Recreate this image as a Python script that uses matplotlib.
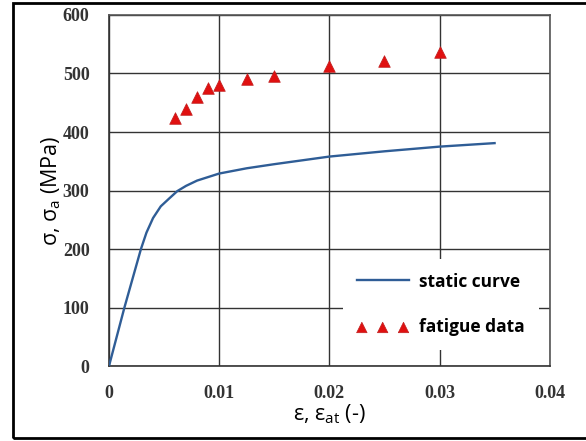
import matplotlib.pyplot as plt
from matplotlib.patches import Rectangle

# static stress-strain curve
strain = [0, 0.0014, 0.0029, 0.0034, 0.004, 0.0047, 0.0055, 0.0062, 0.007, 0.008,
          0.009, 0.01, 0.0125, 0.015, 0.02, 0.025, 0.03, 0.035]
stress = [0, 100, 200, 228, 253, 273, 287, 299, 308, 317,
          323, 329, 338, 345, 358, 367, 375, 381]

# fatigue data
strain_at = [0.006, 0.007, 0.008, 0.009, 0.01, 0.0125, 0.015, 0.02, 0.025, 0.03]
stress_a = [424, 439, 459, 475, 480, 490, 496, 513, 522, 537]

xticks = [0, 0.01, 0.02, 0.03, 0.04]
xticklabels = ['0', '0.01', '0.02', '0.03', '0.04']
yticks = [0, 100, 200, 300, 400, 500, 600]

plt.rcParams['mathtext.fontset'] = 'custom'
plt.rcParams['mathtext.rm'] = 'Open Sans'
plt.rcParams['mathtext.it'] = 'Open Sans'

fig = plt.figure(figsize=(5.86, 4.41), dpi=100)
ax = fig.add_axes([0.186, 0.170, 0.752, 0.796])

ax.plot(strain, stress, color='#2f5d96', lw=1.7, label='static curve', zorder=3)
ax.scatter(strain_at, stress_a, marker='^', s=70, color='#e01010',
           edgecolor='#c02020', lw=0.5, label='fatigue data', zorder=3)

ax.set_xlim(0, 0.04)
ax.set_ylim(0, 600)
ax.set_xticks(xticks)
ax.set_xticklabels(xticklabels)
ax.set_yticks(yticks)
ax.grid(True, color='#333333', lw=1.0)
ax.set_axisbelow(True)
ax.tick_params(length=0, labelcolor='#333333')
ax.tick_params(axis='x', pad=14)
ax.tick_params(axis='y', pad=14)
for lab in ax.get_xticklabels() + ax.get_yticklabels():
    lab.set_fontfamily('Liberation Serif')
    lab.set_fontweight('bold')
    lab.set_fontsize(13)

for s in ax.spines.values():
    s.set_color('#555555')
    s.set_linewidth(1.2)
ax.spines['left'].set_color('#333333')
ax.spines['bottom'].set_color('#333333')

ax.set_xlabel('ε, ε$_{\\mathrm{at}}$ (-)', fontfamily='Open Sans', fontsize=15.5, labelpad=0)
ax.set_ylabel('σ, σ$_{\\mathrm{a}}$ (MPa)', fontfamily='Open Sans', fontsize=15.5, labelpad=0)

leg = ax.legend(loc='lower right', bbox_to_anchor=(0.975, 0.045), frameon=True,
                scatterpoints=3, scatteryoffsets=[0.4], markerscale=0.9,
                handlelength=3.0, handletextpad=0.6,
                labelspacing=1.6, borderpad=0.8, borderaxespad=0,
                prop={'family': 'Open Sans', 'weight': 'bold', 'size': 12.5})
leg.get_frame().set_edgecolor('none')
leg.get_frame().set_facecolor('white')
leg.get_frame().set_alpha(1)

# outer frame around the picture
fig.patches.append(Rectangle((13 / 586, 3 / 441), 1.0, 435 / 441, transform=fig.transFigure,
                             fill=False, edgecolor='black', lw=2, zorder=10))

fig.savefig('out.png', dpi=100)
